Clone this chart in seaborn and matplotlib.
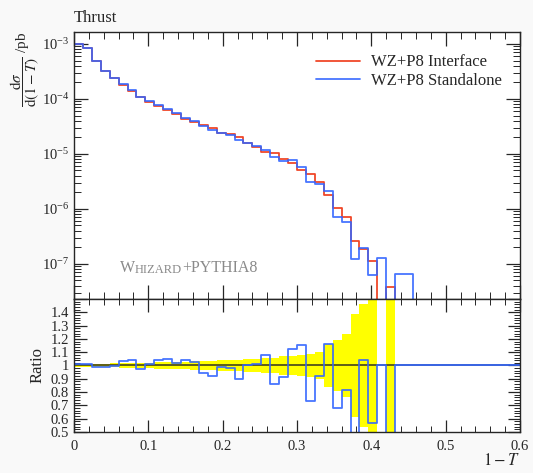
# %%
import numpy as np
import pandas as pd
import seaborn as sns
import matplotlib.pyplot as plt
from matplotlib.ticker import MultipleLocator, LogLocator, NullFormatter, FuncFormatter

# %% data (Thrust, 50 bins of 0.012 in 1-T)
x_lo, x_hi, n_bins = 0.0, 0.6, 50

red = [9.9e-4, 8.4e-4, 4.9e-4, 3.2e-4, 2.4e-4, 1.78e-4, 1.40e-4, 1.10e-4, 8.9e-5, 7.5e-5,
       6.3e-5, 5.4e-5, 4.3e-5, 3.8e-5, 3.4e-5, 2.95e-5, 2.45e-5, 2.3e-5, 2.0e-5, 1.57e-5,
       1.36e-5, 1.07e-5, 1.03e-5, 8.1e-6, 6.9e-6, 5.1e-6, 4.3e-6, 3.1e-6, 1.8e-6, 1.06e-6,
       7.1e-7, 2.6e-7, 1.9e-7, 1.12e-7, 0, 3.8e-8, 0, 0, 0, 0,
       0, 0, 0, 0, 0, 0, 0, 0, 0, 0]
blue = [9.98e-4, 8.47e-4, 4.86e-4, 3.174e-4, 2.393e-4, 1.839e-4, 1.462e-4, 1.069e-4, 9.02e-5, 7.83e-5,
        6.61e-5, 5.52e-5, 4.49e-5, 3.90e-5, 3.21e-5, 2.71e-5, 2.42e-5, 2.25e-5, 1.79e-5, 1.58e-5,
        1.38e-5, 1.156e-5, 8.86e-6, 7.41e-6, 7.73e-6, 5.90e-6, 3.15e-6, 2.85e-6, 2.09e-6, 7.18e-7,
        5.81e-7, 1.25e-7, 1.98e-7, 6.35e-8, 1.3e-7, 0, 6.6e-8, 6.6e-8, 0, 0,
        0, 0, 0, 0, 0, 0, 0, 0, 0, 0]
# relative uncertainty of the reference (yellow band half width)
band = [0.012, 0.012, 0.013, 0.014, 0.015, 0.016, 0.018, 0.019, 0.021, 0.023,
        0.025, 0.027, 0.029, 0.031, 0.033, 0.035, 0.038, 0.041, 0.044, 0.047,
        0.05, 0.054, 0.058, 0.068, 0.075, 0.08, 0.088, 0.1, 0.16, 0.19,
        0.24, 0.39, 0.46, 0.6, 0, 0.6, 0, 0, 0, 0,
        0, 0, 0, 0, 0, 0, 0, 0, 0, 0]

labels = ["WZ+P8 Interface", "WZ+P8 Standalone"]
c_red, c_blue = "#EE3311", "#3366FF"

# %%
red = np.array(red)
blue = np.array(blue)
band = np.array(band)
edges = np.linspace(x_lo, x_hi, n_bins + 1)
centers = 0.5 * (edges[:-1] + edges[1:])
width = edges[1] - edges[0]

# ratio to the reference, set to 1 where the reference bin is empty
ratio = np.where(red > 0, blue / np.where(red > 0, red, 1), 1.0)

df = pd.DataFrame({"x": np.tile(centers, 2),
                   "y": np.r_[red, blue],
                   "sample": np.repeat(labels, n_bins)})
df["y_plot"] = df["y"].where(df["y"] > 0, 1e-12)  # empty bins drop below the axis

sns.set_style("ticks")
plt.rcParams["font.family"] = ["Liberation Serif", "DejaVu Serif"]
plt.rcParams["mathtext.fontset"] = "stix"

fig = plt.figure(figsize=(5.33, 4.73), dpi=100, facecolor="#f9f9f9")
ax = fig.add_axes([0.1388, 0.3679, 0.8368, 0.5644])
rax = fig.add_axes([0.1388, 0.0867, 0.8368, 0.2812], sharex=ax)

ax.set_yscale("log")
for lab, col in zip(labels, [c_red, c_blue]):
    sub = df[df["sample"] == lab]
    sns.histplot(x=sub["x"].to_numpy(), weights=sub["y_plot"].to_numpy(), bins=list(edges),
                 element="step", fill=False, color=col, lw=1.3, alpha=0.9, label=lab, ax=ax)

ax.set_xlim(x_lo, x_hi)
ax.set_ylim(2.3e-8, 1.65e-3)
ax.yaxis.set_major_locator(LogLocator(base=10, numticks=20))
ax.yaxis.set_minor_locator(LogLocator(base=10, subs=np.arange(2, 10), numticks=20))
ax.yaxis.set_minor_formatter(NullFormatter())
ax.xaxis.set_major_locator(MultipleLocator(0.1))
ax.xaxis.set_minor_locator(MultipleLocator(0.02))
ax.tick_params(which="both", direction="in", top=True, right=True, labelbottom=False,
               labelsize=10.5)
ax.tick_params(which="major", length=10, width=0.9)
ax.tick_params(which="minor", length=5, width=0.7)
ax.set_xlabel("")
ax.set_ylabel(r"$\dfrac{\mathrm{d}\sigma}{\mathrm{d}(1-T)}$ /pb", loc="top", fontsize=11, labelpad=0)
ax.set_title("Thrust", loc="left", fontsize=12, pad=7)
ax.legend(loc="upper left", bbox_to_anchor=(0.51, 0.972), frameon=False, fontsize=12,
          handlelength=2.6, handletextpad=0.7, labelspacing=0.15)

# generator tag in small caps
t1 = ax.text(0.103, 0.1, "W", transform=ax.transAxes, fontsize=11.5, color="#8a8a8a")
t2 = ax.annotate("HIZARD", xy=(1, 0), xycoords=t1, va="bottom", fontsize=9, color="#8a8a8a")
ax.annotate("+PYTHIA8", xy=(1, 0), xycoords=t2, va="bottom", fontsize=11.5, color="#8a8a8a")

# ratio panel
m = band > 0
rax.bar(centers[m], 2 * band[m], bottom=1 - band[m], width=width, color="#ffff00", lw=0)
rax.axhline(1.0, color="#222222", lw=1.2, alpha=0.85)
sns.histplot(x=centers, weights=ratio, bins=list(edges), element="step", fill=False,
             color=c_blue, lw=1.3, alpha=0.9, ax=rax)
rax.set_ylim(0.5, 1.5)
rax.set_xlim(x_lo, x_hi)
rax.yaxis.set_major_locator(MultipleLocator(0.1))
rax.yaxis.set_minor_locator(MultipleLocator(0.02))
fmt = FuncFormatter(lambda v, p: "" if v > 1.45 else "%g" % round(v, 2))
rax.yaxis.set_major_formatter(fmt)
rax.xaxis.set_major_formatter(FuncFormatter(lambda v, p: "%g" % round(v, 2)))
rax.tick_params(which="both", direction="in", top=True, right=True, labelsize=10.5)
rax.tick_params(axis="x", which="major", pad=6)
rax.tick_params(which="major", length=9, width=0.9)
rax.tick_params(which="minor", length=4.5, width=0.7)
rax.set_ylabel("Ratio", fontsize=12)
rax.set_xlabel(r"$1-T$", loc="right", fontsize=12, labelpad=0)

for a in (ax, rax):
    a.set_facecolor("white")
    for s in a.spines.values():
        s.set_linewidth(1.0)

plt.savefig("out.png", dpi=100, facecolor=fig.get_facecolor())
